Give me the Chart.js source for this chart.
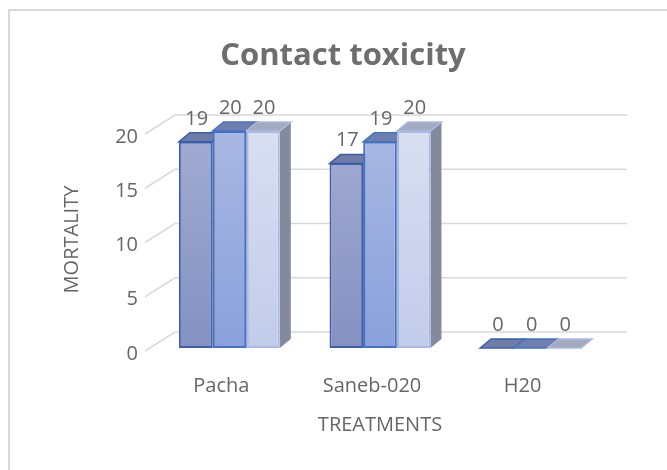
<!DOCTYPE html>
<html>
<head>
<meta charset="utf-8">
<script src="https://cdn.jsdelivr.net/npm/chart.js@4.4.0/dist/chart.umd.min.js"></script>
<style>
  html, body { margin: 0; padding: 0; background: #fff; }
  #wrap { width: 667px; height: 470px; position: relative; }
</style>
</head>
<body>
<div id="wrap"><canvas id="toxChart"></canvas></div>
<script>
// Chart data
const treatments = ["Pacha", "Saneb-020", "H20"];
const series1 = [19, 17, 0];
const series2 = [20, 19, 0];
const series3 = [20, 20, 0];
const yTicks = [0, 5, 10, 15, 20];

const textColor = "#666666";
const fontFamily = "'Open Sans', sans-serif";

// depth of the fake 3D bars
const DX = 11, DY = -9;

const looks = [
  { front: ["#a2acd2", "#8491c1"], border: "#3a5fab", top: "#6f7ca6", side: "#6a7394" },
  { front: ["#a9b7e2", "#89a1db"], border: "#4472c4", top: "#6e7fad", side: "#6c7699" },
  { front: ["#d9dff1", "#c2cbea"], border: "#a9bbe5", top: "#a3aabf", side: "#848a9e" },
];

function frontFill(stops) {
  return (c) => {
    const area = c.chart.chartArea;
    if (!area) return stops[1];
    const g = c.chart.ctx.createLinearGradient(0, area.top, 0, area.bottom);
    g.addColorStop(0, stops[0]);
    g.addColorStop(1, stops[1]);
    return g;
  };
}

const depthPlugin = {
  id: "depth",
  beforeDraw(chart) {
    const { ctx, width, height } = chart;
    ctx.save();
    ctx.fillStyle = "#fff";
    ctx.fillRect(0, 0, width, height);
    ctx.strokeStyle = "#d9d9d9";
    ctx.lineWidth = 2;
    ctx.strokeRect(9, 10, width + 40, height + 40);
    // chart title
    ctx.fillStyle = "#6e6e6e";
    ctx.font = "bold 31px " + fontFamily;
    ctx.textAlign = "center";
    ctx.textBaseline = "middle";
    ctx.fillText("Contact toxicity", 343, 56);
    ctx.restore();
  },
  beforeDatasetsDraw(chart) {
    const { ctx, chartArea } = chart;
    const y = chart.scales.y;
    ctx.save();
    // walls gridlines
    ctx.strokeStyle = "#d9d9d9";
    ctx.lineWidth = 1.5;
    yTicks.forEach((t) => {
      const v = y.getPixelForValue(t);
      ctx.beginPath();
      ctx.moveTo(chartArea.left - 9, v + 3);
      ctx.lineTo(chartArea.left + 21, v - 16);
      ctx.lineTo(chartArea.right + 21, v - 16);
      ctx.stroke();
    });
    // top and side faces
    chart.data.datasets.forEach((ds, i) => {
      const look = looks[i];
      chart.getDatasetMeta(i).data.forEach((bar) => {
        const l = bar.x - bar.width / 2, r = bar.x + bar.width / 2;
        const t = bar.y, b = bar.base;
        ctx.fillStyle = look.side;
        ctx.beginPath();
        ctx.moveTo(r, t);
        ctx.lineTo(r + DX, t + DY);
        ctx.lineTo(r + DX, b + DY);
        ctx.lineTo(r, b);
        ctx.closePath();
        ctx.fill();
        ctx.fillStyle = look.top;
        ctx.strokeStyle = look.border;
        ctx.lineWidth = 1.5;
        ctx.beginPath();
        ctx.moveTo(l, t);
        ctx.lineTo(l + DX, t + DY);
        ctx.lineTo(r + DX, t + DY);
        ctx.lineTo(r, t);
        ctx.closePath();
        ctx.fill();
        ctx.stroke();
      });
    });
    ctx.restore();
  },
  afterDatasetsDraw(chart) {
    const { ctx } = chart;
    ctx.save();
    ctx.fillStyle = textColor;
    ctx.font = "20px " + fontFamily;
    ctx.textAlign = "center";
    ctx.textBaseline = "middle";
    chart.data.datasets.forEach((ds, i) => {
      chart.getDatasetMeta(i).data.forEach((bar, j) => {
        ctx.fillText(String(ds.data[j]), bar.x + 1, bar.y - 23);
      });
    });
    ctx.restore();
  },
};

const ctx = document.getElementById("toxChart").getContext("2d");
new Chart(ctx, {
  type: "bar",
  data: {
    labels: treatments,
    datasets: [series1, series2, series3].map((d, i) => ({
      label: "Series" + (i + 1),
      data: d,
      backgroundColor: frontFill(looks[i].front),
      borderColor: looks[i].border,
      borderWidth: 2,
      borderSkipped: false,
      categoryPercentage: 0.67,
      barPercentage: 1.0,
    })),
  },
  options: {
    responsive: true,
    maintainAspectRatio: false,
    animation: false,
    layout: { padding: { left: 0, right: 61, top: 131, bottom: 22 } },
    plugins: {
      legend: { display: false },
      title: { display: false },
      tooltip: { enabled: false },
    },
    scales: {
      x: {
        grid: { display: false, drawTicks: false },
        border: { display: false },
        ticks: {
          color: textColor,
          font: { family: fontFamily, size: 20 },
          padding: 26,
          labelOffset: -8,
        },
        title: {
          display: true,
          text: "TREATMENTS",
          color: textColor,
          font: { family: fontFamily, size: 20 },
          padding: { top: 0, bottom: 11 },
        },
        afterFit: (scale) => { scale.height = 100; },
      },
      y: {
        min: yTicks[0],
        max: yTicks[yTicks.length - 1],
        grid: { display: false, drawTicks: false },
        border: { display: false },
        ticks: {
          stepSize: yTicks[1] - yTicks[0],
          color: textColor,
          font: { family: fontFamily, size: 20 },
          padding: 16,
          labelOffset: 6,
        },
        title: {
          display: true,
          text: "MORTALITY",
          color: textColor,
          font: { family: fontFamily, size: 20 },
          padding: { top: 60, bottom: 0 },
        },
        afterFit: (scale) => { scale.width = 154; },
      },
    },
  },
  plugins: [depthPlugin],
});
</script>
</body>
</html>
